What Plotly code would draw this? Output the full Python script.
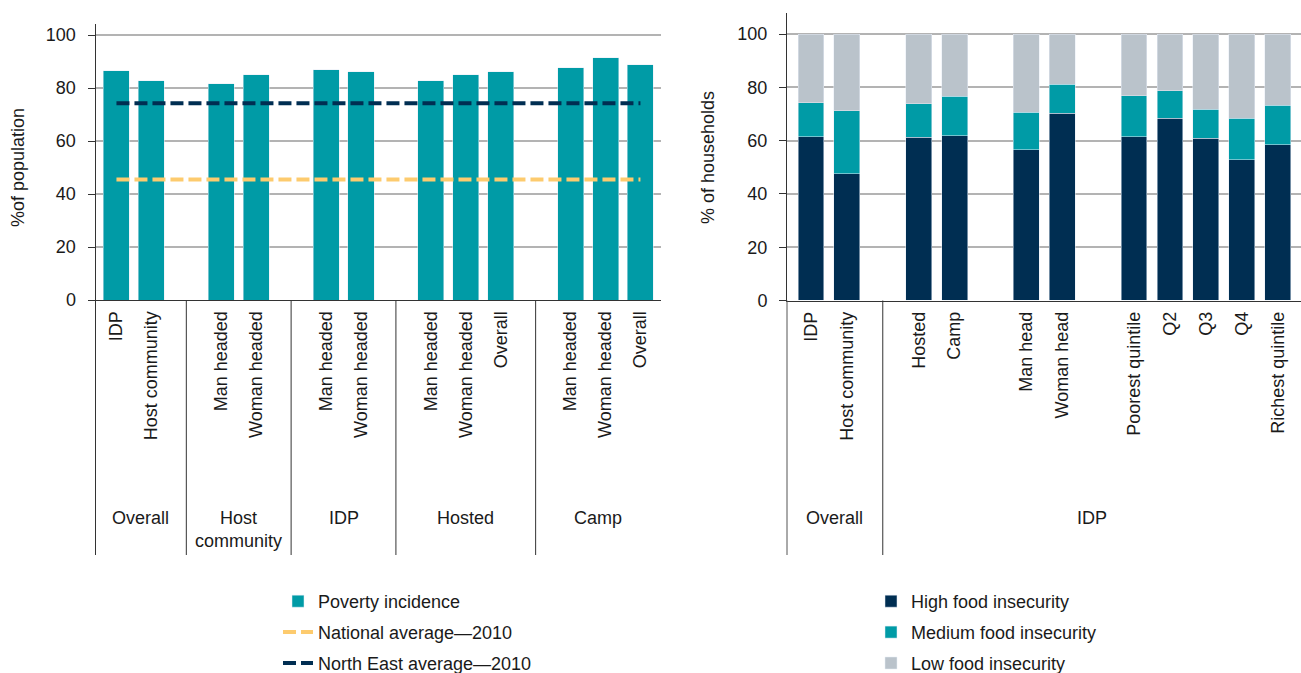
import plotly.graph_objects as go

# ---------------- data ----------------
# Left panel: poverty incidence (% of population)
left_groups = ["Overall", "Host<br>community", "IDP", "Hosted", "Camp"]
left_subcats = [
    ["IDP", "Host community"],
    ["Man headed", "Woman headed"],
    ["Man headed", "Woman headed"],
    ["Man headed", "Woman headed", "Overall"],
    ["Man headed", "Woman headed", "Overall"],
]
poverty_incidence = [86.6, 82.8, 81.7, 85.1, 87.0, 86.2, 82.8, 85.1, 86.2, 87.7, 91.5, 88.9]
national_avg_2010 = 45.5
north_east_avg_2010 = 74.3

# Right panel: food insecurity (% of households)
right_groups = ["Overall", "IDP", "IDP", "IDP"]
right_subcats = [
    ["IDP", "Host community"],
    ["Hosted", "Camp"],
    ["Man head", "Woman head"],
    ["Poorest quintile", "Q2", "Q3", "Q4", "Richest quintile"],
]
high_food_insec = [61.5, 47.6, 61.2, 61.9, 56.6, 70.2, 61.5, 68.3, 60.8, 52.9, 58.5]
medium_food_insec = [12.8, 23.7, 12.7, 14.7, 14.0, 10.9, 15.4, 10.5, 10.9, 15.4, 14.7]
low_food_insec = [25.7, 28.7, 26.1, 23.4, 29.4, 18.9, 23.1, 21.2, 28.3, 31.7, 26.8]

y_ticks = [0, 20, 40, 60, 80, 100]

# ---------------- styles ----------------
TEAL = "#009BA6"
NAVY = "#002E52"
GREY = "#BAC3CB"
YELLOW = "#FDCB6E"
TXT = "#1a1a1a"
FONT = "Liberation Sans, Arial, sans-serif"
FS = 18
W, H = 1301, 673


def layout_slots(groups, subcats):
    """Each sub-block separated by one empty slot; separator where group name changes."""
    xs, labels, seps = [], [], []
    pos = 0
    prev = None
    for g, cats in zip(groups, subcats):
        if prev is not None:
            if g != prev:
                seps.append(pos)
            pos += 1
        for c in cats:
            xs.append(pos)
            labels.append(c)
            pos += 1
        prev = g
    return xs, labels, seps


lx, llab, lseps = layout_slots(left_groups, left_subcats)
rx, rlab, rseps = layout_slots(right_groups, right_subcats)

left_range = [-0.6, 15.58]
right_range = [-0.668, 13.65]

fig = go.Figure()

# Left traces
fig.add_trace(go.Bar(x=lx, y=poverty_incidence, marker_color=TEAL, width=0.745,
                     name="Poverty incidence", xaxis="x", yaxis="y", legend="legend",
                     legendgroup="a"))
fig.add_trace(go.Scatter(x=[lx[0], lx[-1]], y=[national_avg_2010] * 2, mode="lines",
                         line=dict(color=YELLOW, width=4, dash="13px,5px"),
                         name="National average\u20142010", xaxis="x", yaxis="y",
                         legend="legend", legendgroup="b"))
fig.add_trace(go.Scatter(x=[lx[0], lx[-1]], y=[north_east_avg_2010] * 2, mode="lines",
                         line=dict(color=NAVY, width=4, dash="13px,5px"),
                         name="North East average\u20142010", xaxis="x", yaxis="y",
                         legend="legend", legendgroup="c"))

# Right traces
for i, (vals, col, nm) in enumerate([(high_food_insec, NAVY, "High food insecurity"),
                                     (medium_food_insec, TEAL, "Medium food insecurity"),
                                     (low_food_insec, GREY, "Low food insecurity")]):
    fig.add_trace(go.Bar(x=rx, y=vals, marker_color=col, width=0.72, name=nm,
                         xaxis="x2", yaxis="y2", legend="legend2", legendgroup="r%d" % i))

# domains (pixel-derived)
lx0, lx1 = 95.5 / W, 660.7 / W
rx0, rx1 = 787 / W, 1.0
ly0, ly1 = (H - 300) / H, (H - 24) / H
ry0, ry1 = (H - 300.5) / H, (H - 12.7) / H

axis_common = dict(showgrid=False, zeroline=False, showline=True, linecolor="#333",
                   linewidth=1, ticks="", tickangle=-90, ticklabelstandoff=3,
                   automargin=False,
                   tickfont=dict(size=FS, color=TXT, family=FONT), fixedrange=True)
yaxis_common = dict(showgrid=True, gridcolor="#b3b3b3", gridwidth=1.5, zeroline=False,
                    showline=True, linecolor="#333", linewidth=1, ticks="outside",
                    ticklen=7, tickcolor="#333", tickvals=y_ticks, automargin=False,
                    ticklabelstandoff=8,
                    tickfont=dict(size=FS, color=TXT, family=FONT), fixedrange=True)

legend_common = dict(xanchor="left", yanchor="top", tracegroupgap=4.5,
                     font=dict(size=FS, color=TXT, family=FONT), bgcolor="rgba(0,0,0,0)",
                     traceorder="grouped")

fig.update_layout(
    width=W, height=H,
    margin=dict(l=0, r=0, t=0, b=0, autoexpand=False),
    paper_bgcolor="white", plot_bgcolor="white",
    font=dict(family=FONT, size=FS, color=TXT),
    barmode="stack",
    xaxis=dict(domain=[lx0, lx1], range=left_range, tickvals=lx, ticktext=llab,
               anchor="y", **axis_common),
    yaxis=dict(domain=[ly0, ly1], range=[0, 104.2], anchor="x", **yaxis_common),
    xaxis2=dict(domain=[rx0, rx1], range=right_range, tickvals=rx, ticktext=rlab,
                anchor="y2", **axis_common),
    yaxis2=dict(domain=[ry0, ry1], range=[0, 108.0], anchor="x2", **yaxis_common),
    legend=dict(x=278 / W, y=(H - 583) / H, **legend_common),
    legend2=dict(x=871 / W, y=(H - 583) / H, **legend_common),
    showlegend=True,
)

# separators and extended axis lines below plot
bottom_y = (H - 555) / H
shapes = []
for s in lseps:
    shapes.append(dict(type="line", xref="x", yref="paper", x0=s, x1=s, y0=ly0, y1=bottom_y,
                       line=dict(color="#333", width=1)))
for s in rseps:
    shapes.append(dict(type="line", xref="x2", yref="paper", x0=s, x1=s, y0=ry0, y1=bottom_y,
                       line=dict(color="#333", width=1)))
shapes.append(dict(type="line", xref="paper", yref="paper", x0=lx0, x1=lx0, y0=ly0, y1=bottom_y,
                   line=dict(color="#333", width=1)))
shapes.append(dict(type="line", xref="paper", yref="paper", x0=rx0, x1=rx0, y0=ry0, y1=bottom_y,
                   line=dict(color="#555", width=1)))
fig.update_layout(shapes=shapes)

# group labels
ann = []
group_y = (H - 506) / H


def group_labels(groups, seps, rng, xref):
    bounds = [rng[0]] + seps + [rng[1]]
    uniq = []
    for g in groups:
        if not uniq or uniq[-1] != g:
            uniq.append(g)
    out = []
    for i, g in enumerate(uniq):
        cx = (bounds[i] + bounds[i + 1]) / 2
        out.append(dict(x=cx, y=group_y, xref=xref, yref="paper", text=g, showarrow=False,
                        xanchor="center", yanchor="top", align="center",
                        font=dict(size=FS, color=TXT, family=FONT)))
    return out


ann += group_labels(left_groups, lseps, left_range, "x")
ann += group_labels(right_groups, rseps, right_range, "x2")

# axis titles
ann.append(dict(x=18 / W, y=(H - 168) / H, xref="paper", yref="paper", text="%of population",
                textangle=-90, showarrow=False, xanchor="center", yanchor="middle",
                font=dict(size=FS, color=TXT, family=FONT)))
ann.append(dict(x=708 / W, y=(H - 158) / H, xref="paper", yref="paper", text="% of households",
                textangle=-90, showarrow=False, xanchor="center", yanchor="middle",
                font=dict(size=FS, color=TXT, family=FONT)))
fig.update_layout(annotations=ann)

fig.write_html("out.html", config={"displayModeBar": False},
               post_script="document.body.style.margin='0';document.body.style.padding='0';")
